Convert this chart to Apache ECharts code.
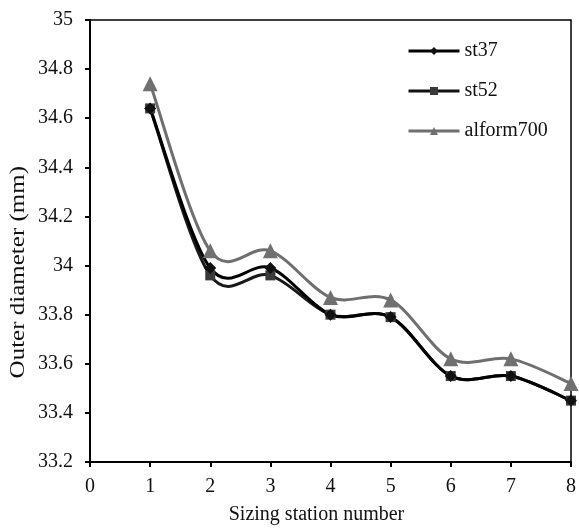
<!DOCTYPE html>
<html>
<head>
<meta charset="utf-8">
<script src="https://cdn.jsdelivr.net/npm/echarts@6/dist/echarts.min.js"></script>
<style>
html,body{margin:0;padding:0;background:#fff;}
#chart{width:579px;height:530px;}
</style>
</head>
<body>
<div id="chart"></div>
<script>
var stations = [1, 2, 3, 4, 5, 6, 7, 8];
var st37 = [34.64, 33.99, 33.99, 33.80, 33.79, 33.55, 33.55, 33.45];
var st52 = [34.64, 33.96, 33.96, 33.80, 33.79, 33.55, 33.55, 33.45];
var alform700 = [34.74, 34.06, 34.06, 33.87, 33.86, 33.62, 33.62, 33.52];
var seriesNames = ['st37', 'st52', 'alform700'];

function pairs(arr) { return stations.map(function (x, i) { return [x, arr[i]]; }); }

// Excel-like smoothed curve through the data, mapped through the chart's own axes
function curveSeries(id, arr, color, width, z) {
  return {
    id: id, name: id, type: 'custom', coordinateSystem: 'cartesian2d', silent: true, z: z,
    data: pairs(arr), encode: { x: 0, y: 1 },
    renderItem: function (params, api) {
      if (params.dataIndex !== 0) return null;
      var p = stations.map(function (x, i) { return api.coord([x, arr[i]]); });
      var n = p.length;
      var d = 'M' + p[0][0] + ',' + p[0][1];
      for (var i = 0; i < n - 1; i++) {
        var p0 = p[i - 1] || p[i], p1 = p[i], p2 = p[i + 1], p3 = p[i + 2] || p[i + 1];
        var c1x = p1[0] + (p2[0] - p0[0]) / 6, c1y = p1[1] + (p2[1] - p0[1]) / 6;
        var c2x = p2[0] - (p3[0] - p1[0]) / 6, c2y = p2[1] - (p3[1] - p1[1]) / 6;
        d += ' C' + c1x + ',' + c1y + ' ' + c2x + ',' + c2y + ' ' + p2[0] + ',' + p2[1];
      }
      return { type: 'path', shape: { pathData: d }, style: { fill: 'none', stroke: color, lineWidth: width } };
    }
  };
}

function markerSeries(name, arr, symbol, size, fill, z) {
  return { name: name, type: 'line', data: pairs(arr), symbol: symbol, symbolSize: size, showSymbol: true,
    lineStyle: { width: 0, opacity: 0 }, itemStyle: { color: fill }, z: z };
}

var font = 'Liberation Serif';
var chart = echarts.init(document.getElementById('chart'));
chart.setOption({
  backgroundColor: '#fff',
  animation: false,
  grid: { left: 90, right: 4, top: 20, bottom: 56, show: true, borderColor: '#000', borderWidth: 1.5 },
  legend: {
    orient: 'vertical',
    left: 402,
    top: 36,
    itemWidth: 51,
    itemHeight: 10,
    itemGap: 20,
    data: [
      { name: 'st37', lineStyle: { color: '#000', width: 3, opacity: 1 } },
      { name: 'st52', lineStyle: { color: '#111', width: 3, opacity: 1 } },
      { name: 'alform700', lineStyle: { color: '#6f6f6f', width: 3, opacity: 1 } }
    ],
    textStyle: { fontFamily: font, fontSize: 20, color: '#111', lineHeight: 20 }
  },
  xAxis: {
    type: 'value', min: 0, max: 8, interval: 1,
    name: 'Sizing station number', nameLocation: 'middle', nameGap: 43,
    nameTextStyle: { fontFamily: font, fontSize: 20, color: '#111', padding: [0, 28, 0, 0] },
    axisLine: { lineStyle: { color: '#000', width: 2 } },
    axisTick: { show: true, inside: false, length: 5, lineStyle: { color: '#000', width: 2 } },
    axisLabel: { fontFamily: font, fontSize: 20, color: '#111', margin: 15 },
    splitLine: { show: false }
  },
  yAxis: {
    type: 'value', min: 33.2, max: 35, interval: 0.2,
    axisLine: { show: true, lineStyle: { color: '#000', width: 2 } },
    axisTick: { show: true, inside: false, length: 5, lineStyle: { color: '#000', width: 2 } },
    axisLabel: { fontFamily: font, fontSize: 20, color: '#111', margin: 17,
      formatter: function (v) { return String(parseFloat(v.toFixed(1))); } },
    splitLine: { show: false }
  },
  graphic: [{
    type: 'text', left: 9, top: 166, rotation: Math.PI / 2, scaleX: 1.25,
    style: { text: 'Outer diameter (mm)', font: '20px "Liberation Serif"', fill: '#111' }
  }],
  series: [
    curveSeries('c-st52', st52, '#1a1a1a', 3, 1),
    curveSeries('c-st37', st37, '#000', 3, 2),
    curveSeries('c-alform700', alform700, '#6f6f6f', 3, 3),
    markerSeries('st52', st52, 'rect', 10, '#3a3a3a', 4),
    markerSeries('st37', st37, 'diamond', 12, '#111', 5),
    markerSeries('alform700', alform700, 'triangle', 15, '#707070', 6)
  ]
});
</script>
</body>
</html>
